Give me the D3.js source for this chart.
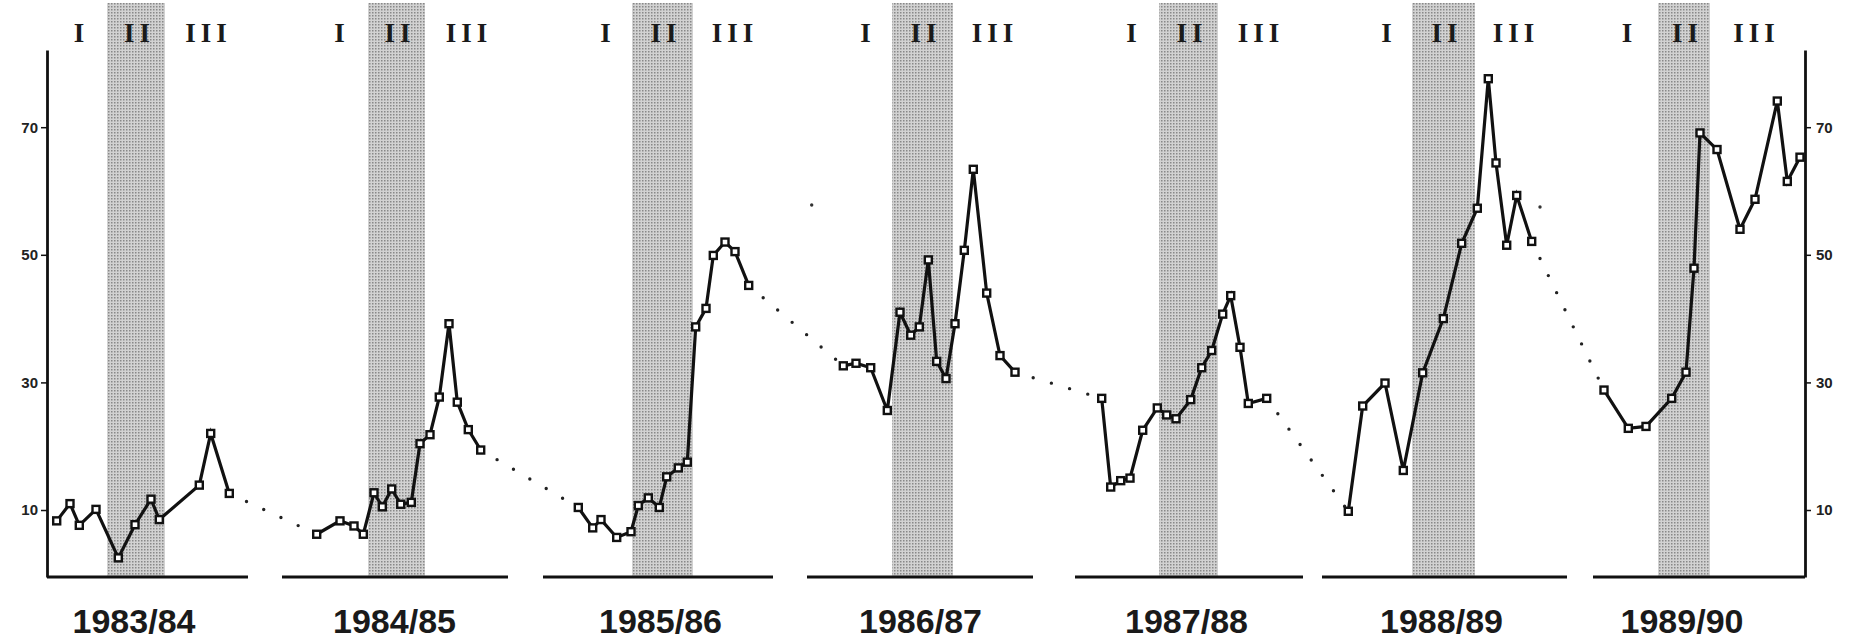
<!DOCTYPE html>
<html>
<head>
<meta charset="utf-8">
<script src="https://cdn.jsdelivr.net/npm/d3@7/dist/d3.min.js"></script>
<style>
  body { margin: 0; background: #fff; }
  svg { display: block; }
  .tick text { font-family: "Liberation Sans", Arial, sans-serif; font-weight: bold; font-size: 15px; fill: #222; }
  .season { font-family: "Liberation Sans", Arial, sans-serif; font-weight: bold; font-size: 34px; fill: #1a1a1a; }
  .phase { font-family: "Liberation Serif", "Times New Roman", serif; font-weight: bold; font-size: 27px; fill: #1a1a1a; letter-spacing: 5px; }
</style>
</head>
<body>
<div id="chart"></div>
<script>
// seasons and their spans on the week axis
var SEASONS = ['1983/84', '1984/85', '1985/86', '1986/87', '1987/88', '1988/89', '1989/90'];
var SEASON_SPANS = [[0, 20.1], [23.5, 46.1], [49.6, 72.6], [76, 98.6], [102.8, 125.6], [127.5, 152], [154.6, 175.8]];
var PHASE_II = [[6, 11.8], [32.1, 37.8], [58.5, 64.6], [84.5, 90.6], [111.2, 117.1], [136.5, 142.8], [161.1, 166.3]];
var PHASES = ['I', 'II', 'III'];
var Y_TICKS = [10, 30, 50, 70];

// observations: week index, value
var weeks_8384 = [0.97, 2.3, 3.23, 4.9, 7.13, 8.8, 10.4, 11.23, 15.23, 16.37, 18.23];
var values_8384 = [8.3, 11.0, 7.6, 10.1, 2.5, 7.7, 11.7, 8.5, 13.9, 22.0, 12.6];
var weeks_8485 = [26.97, 29.3, 30.7, 31.63, 32.7, 33.53, 34.47, 35.37, 36.43, 37.3, 38.3, 39.23, 40.2, 41.03, 42.13, 43.37];
var values_8485 = [6.2, 8.3, 7.5, 6.2, 12.7, 10.5, 13.3, 10.9, 11.2, 20.4, 21.8, 27.7, 39.2, 26.9, 22.6, 19.4];
var weeks_8586 = [53.13, 54.57, 55.4, 56.97, 58.4, 59.13, 60.13, 61.23, 61.97, 63.13, 64.03, 64.87, 65.9, 66.63, 67.8, 68.8, 70.17];
var values_8586 = [10.4, 7.2, 8.5, 5.7, 6.6, 10.7, 11.9, 10.4, 15.2, 16.6, 17.5, 38.7, 41.6, 49.9, 52.0, 50.5, 45.2];
var weeks_8687 = [79.63, 80.9, 82.37, 84.03, 85.3, 86.37, 87.23, 88.13, 88.97, 89.9, 90.8, 91.73, 92.63, 93.97, 95.3, 96.8];
var values_8687 = [32.6, 33.0, 32.3, 25.6, 41.0, 37.4, 38.7, 49.2, 33.3, 30.6, 39.2, 50.7, 63.4, 44.0, 34.2, 31.6];
var weeks_8788 = [105.47, 106.37, 107.37, 108.3, 109.57, 111.03, 111.97, 112.9, 114.37, 115.47, 116.47, 117.57, 118.37, 119.3, 120.13, 121.97];
var values_8788 = [27.5, 13.6, 14.6, 15.0, 22.5, 26.0, 24.9, 24.3, 27.3, 32.3, 35.0, 40.7, 43.6, 35.5, 26.7, 27.5];
var weeks_8889 = [130.13, 131.57, 133.8, 135.63, 137.57, 139.63, 141.47, 143.03, 144.13, 144.9, 145.97, 146.97, 148.47];
var values_8889 = [9.8, 26.3, 29.9, 16.2, 31.5, 40.0, 51.8, 57.3, 77.6, 64.4, 51.5, 59.3, 52.1];
var weeks_8990 = [155.7, 158.13, 159.9, 162.47, 163.9, 164.7, 165.3, 167.0, 169.3, 170.8, 173.03, 174.03, 175.3];
var values_8990 = [28.8, 22.8, 23.1, 27.5, 31.6, 47.9, 69.1, 66.5, 54.0, 58.7, 74.1, 61.5, 65.3];

// two lone print dots in the original
var stray_weeks = [76.47, 149.3];
var stray_values = [57.8, 57.5];

var WEEKS = [weeks_8384, weeks_8485, weeks_8586, weeks_8687, weeks_8788, weeks_8889, weeks_8990];
var VALUES = [values_8384, values_8485, values_8586, values_8687, values_8788, values_8889, values_8990];

var WIDTH = 1855, HEIGHT = 642;

var svg = d3.select('#chart').append('svg')
    .attr('width', WIDTH)
    .attr('height', HEIGHT);

var x = d3.scaleLinear().domain([0, 176]).range([47, 1807]);
var y = d3.scaleLinear().domain([-0.5, 82.1]).range([577, 50]);

// halftone look for the phase II bands
var pat = svg.append('defs').append('pattern')
    .attr('id', 'halftone')
    .attr('width', 3).attr('height', 3)
    .attr('patternUnits', 'userSpaceOnUse');
pat.append('rect').attr('width', 3).attr('height', 3).attr('fill', '#d2d2d2');
pat.append('rect').attr('width', 1.5).attr('height', 1.5).attr('fill', '#888');

var seasons = SEASONS.map(function(name, i){
    return {
        name: name,
        span: SEASON_SPANS[i],
        band: PHASE_II[i],
        points: WEEKS[i].map(function(w, j){ return [w, VALUES[i][j]]; })
    };
});

svg.append('g').selectAll('rect')
    .data(seasons).enter().append('rect')
    .attr('x', function(d){ return x(d.band[0]); })
    .attr('width', function(d){ return x(d.band[1]) - x(d.band[0]); })
    .attr('y', 3)
    .attr('height', y(-0.5) - 3)
    .attr('fill', 'url(#halftone)');

// phase numerals, placed around the band
var phaseOffsets = [-57, 1, 70];
var labels = svg.append('g');
seasons.forEach(function(s){
    var c = (x(s.band[0]) + x(s.band[1])) / 2;
    PHASES.forEach(function(p, k){
        labels.append('text')
            .attr('class', 'phase')
            .attr('x', c + phaseOffsets[k] + 2.5)
            .attr('y', 42)
            .attr('text-anchor', 'middle')
            .text(p);
    });
    labels.append('text')
        .attr('class', 'season')
        .attr('x', c - 2)
        .attr('y', 633)
        .attr('text-anchor', 'middle')
        .text(s.name);
});

// baseline pieces per season
svg.append('g').selectAll('line')
    .data(seasons).enter().append('line')
    .attr('x1', function(d){ return x(d.span[0]); })
    .attr('x2', function(d){ return x(d.span[1]); })
    .attr('y1', y(-0.5)).attr('y2', y(-0.5))
    .attr('stroke', '#111')
    .attr('stroke-width', 2.8);

var yLeft = svg.append('g')
    .attr('transform', 'translate(' + x(0) + ',0)')
    .call(d3.axisLeft(y).tickValues(Y_TICKS).tickSize(6).tickSizeOuter(0).tickPadding(3));
var yRight = svg.append('g')
    .attr('transform', 'translate(' + x(175.8) + ',0)')
    .call(d3.axisRight(y).tickValues(Y_TICKS).tickSize(6).tickSizeOuter(0).tickPadding(5));
[yLeft, yRight].forEach(function(g){
    g.select('.domain').attr('stroke', '#111').attr('stroke-width', 2.8);
    g.selectAll('.tick line').attr('stroke', '#111').attr('stroke-width', 1.5);
});

// dotted links between the end of one season and the start of the next
var links = d3.pairs(seasons).map(function(p){
    return [p[0].points[p[0].points.length - 1], p[1].points[0]];
});
var line = d3.line()
    .x(function(d){ return x(d[0]); })
    .y(function(d){ return y(d[1]); });

svg.append('g').selectAll('path')
    .data(links).enter().append('path')
    .attr('d', line)
    .attr('fill', 'none')
    .attr('stroke', '#222')
    .attr('stroke-width', 3.4)
    .attr('stroke-linecap', 'round')
    .attr('stroke-dasharray', '0,19')
    .attr('stroke-dashoffset', -19);

svg.append('g').selectAll('circle')
    .data(stray_weeks).enter().append('circle')
    .attr('cx', function(d){ return x(d); })
    .attr('cy', function(d, i){ return y(stray_values[i]); })
    .attr('r', 1.7)
    .attr('fill', '#333');

var series = svg.append('g').selectAll('g')
    .data(seasons).enter().append('g');

series.append('path')
    .attr('d', function(d){ return line(d.points); })
    .attr('fill', 'none')
    .attr('stroke', '#111')
    .attr('stroke-width', 3.2)
    .attr('stroke-linejoin', 'miter');

series.selectAll('rect')
    .data(function(d){ return d.points; })
    .enter().append('rect')
    .attr('x', function(d){ return x(d[0]) - 3.5; })
    .attr('y', function(d){ return y(d[1]) - 3.5; })
    .attr('width', 7).attr('height', 7)
    .attr('fill', '#fff')
    .attr('stroke', '#111')
    .attr('stroke-width', 2.4);
</script>
</body>
</html>
